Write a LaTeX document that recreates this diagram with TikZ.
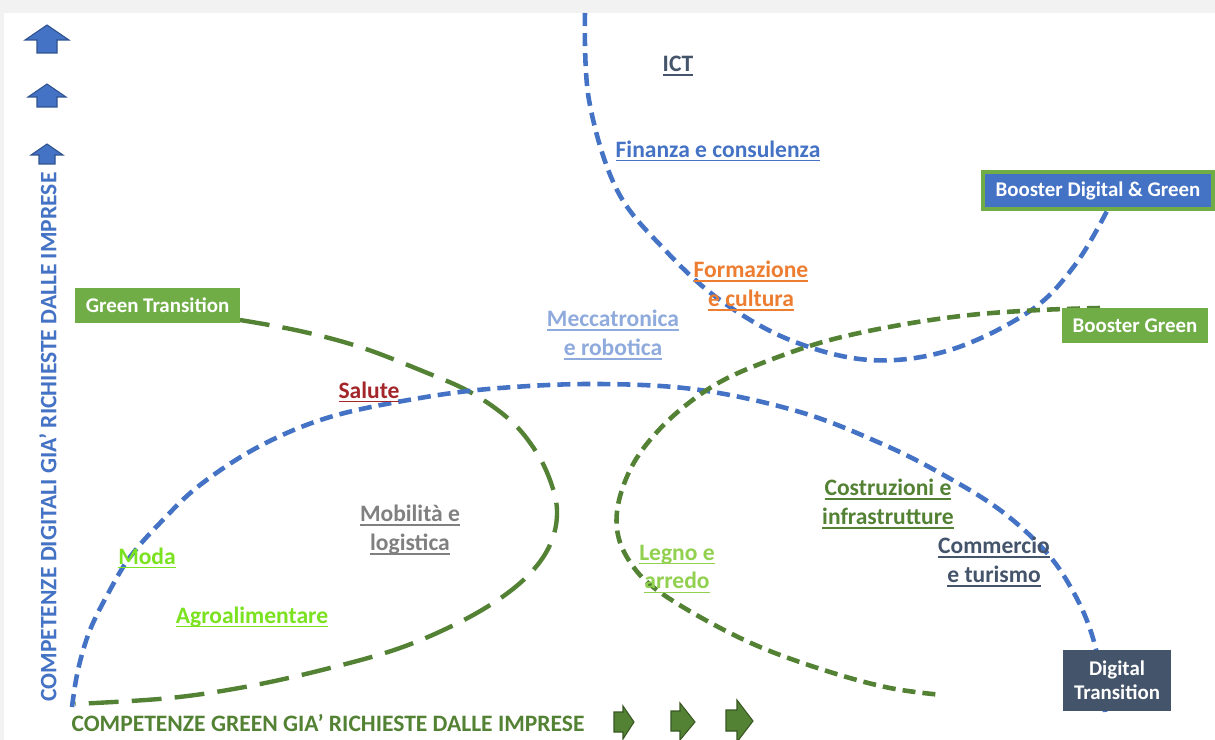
\documentclass[tikz,border=0pt]{standalone}
\usepackage{fontspec}
\setmainfont{Carlito}
\definecolor{cblue}{HTML}{4472C4}
\definecolor{cbluedark}{HTML}{2F528F}
\definecolor{cgreen}{HTML}{548235}
\definecolor{cgreendark}{HTML}{385723}
\definecolor{cgreenbox}{HTML}{70AD47}
\definecolor{cslate}{HTML}{44546A}
\definecolor{corange}{HTML}{ED7D31}
\definecolor{clightblue}{HTML}{8FAADC}
\definecolor{cred}{HTML}{A3262A}
\definecolor{cgray}{HTML}{808080}
\definecolor{clime}{HTML}{7AE21E}
\definecolor{clightgreen}{HTML}{92D050}
\definecolor{bggray}{HTML}{F2F2F2}
\newcommand{\ulx}[1]{\setbox0=\hbox{#1}\rlap{\rule[-0.18em]{\wd0}{0.07em}}\box0}
\begin{document}
\begin{tikzpicture}[x=0.02cm,y=-0.02cm,
  lbl/.style={font=\fontsize{13.4}{16.4}\selectfont\bfseries, align=center, inner sep=0pt},
  axislbl/.style={font=\fontsize{13.4}{16}\selectfont\bfseries, inner sep=0pt},
  boxlbl/.style={rectangle, inner sep=0pt, text=white, font=\fontsize{11.9}{13.6}\selectfont\bfseries, align=center},
  bluedash/.style={draw=cblue, line width=2.6pt, dash pattern=on 7.4pt off 4pt},
  greendash/.style={draw=cgreen, line width=2.6pt, dash pattern=on 7.4pt off 4pt},
  greenlong/.style={draw=cgreen, line width=2.5pt, dash pattern=on 17pt off 7.5pt},
  uparrow/.style={fill=cblue, draw=cbluedark, line width=0.6pt, line join=miter},
  rightarrow/.style={fill=cgreen, draw=cgreendark, line width=0.6pt, line join=miter}]
\useasboundingbox (0,0) rectangle (1215,740);
\fill[bggray] (0,0) rectangle (1215,740);
\fill[white] (4,13) rectangle (1215,740);

% curves
\draw[bluedash] plot[smooth, tension=0.6] coordinates {(585,13) (589,100) (617,190) (665,250) (720,300) (790,340) (870,360) (950,350) (1030,311) (1075,265) (1107,211)};
\draw[greenlong] plot[smooth, tension=0.6] coordinates {(240,320) (300,331) (360,347) (420,370) (470,392) (510,420) (535,450) (550,480) (557,510) (552,540) (535,568) (505,595) (460,622) (400,648) (330,668) (250,686) (170,698) (75,704)};
\draw[bluedash] plot[smooth, tension=0.6] coordinates {(72,707) (78,670) (90,630) (110,590) (130,557) (160,523) (200,485) (260,446) (330,417) (420,398) (500,388) (600,384) (700,390) (800,412) (880,443) (940,473) (1000,510) (1047,553) (1075,595) (1092,635) (1102,680) (1105,712)};
\draw[greendash] plot[smooth, tension=0.6] coordinates {(1100,308) (1040,310) (970,315) (900,325) (830,340) (770,360) (720,382) (680,410) (650,440) (630,470) (618,505) (618,535) (630,562) (653,587) (700,617) (760,647) (830,672) (890,688) (942,695)};

% boxes
\node[boxlbl, fill=cgreenbox, minimum width=165*0.02cm, minimum height=35*0.02cm] (gt) at (157.5,305.5) {Green Transition};
\node[boxlbl, fill=cblue, draw=cgreenbox, line width=2.8pt, minimum width=230*0.02cm, minimum height=37*0.02cm] (bdg) at (1098,190.5) {Booster Digital \& Green};
\node[boxlbl, fill=cgreenbox, minimum width=146*0.02cm, minimum height=35*0.02cm] (bg) at (1135,325.5) {Booster Green};
\node[boxlbl, fill=cslate, minimum width=108*0.02cm, minimum height=61*0.02cm] (dt) at (1117,680.5) {Digital\\Transition};

% labels
\node[lbl, text=cslate] (ict) at (678,66) {\ulx{ICT}};
\node[lbl, text=cblue] (fin) at (718,151) {\ulx{Finanza e consulenza}};
\node[lbl, text=corange] (form) at (751,286) {\ulx{Formazione}\\\ulx{e cultura}};
\node[lbl, text=clightblue] (mecc) at (613,335) {\ulx{Meccatronica}\\\ulx{e robotica}};
\node[lbl, text=cred] (sal) at (369,392) {\ulx{Salute}};
\node[lbl, text=cgray] (mob) at (410,530) {\ulx{Mobilità e}\\\ulx{logistica}};
\node[lbl, text=clime] (moda) at (147,558) {\ulx{Moda}};
\node[lbl, text=clime] (agro) at (252,617) {\ulx{Agroalimentare}};
\node[lbl, text=clightgreen] (legno) at (677,569) {\ulx{Legno e}\\\ulx{arredo}};
\node[lbl, text=cgreen] (costr) at (888,504) {\ulx{Costruzioni e}\\\ulx{infrastrutture}};
\node[lbl, text=cslate] (comm) at (994,562) {\ulx{Commercio}\\\ulx{e turismo}};

% axes labels
\node[axislbl, text=cblue, rotate=90] (yax) at (48,437) {COMPETENZE DIGITALI GIA’ RICHIESTE DALLE IMPRESE};
\node[axislbl, text=cgreen] (xax) at (328,723) {COMPETENZE GREEN GIA’ RICHIESTE DALLE IMPRESE};

% up arrows
\draw[uparrow] (47,25) -- (69,40) -- (57,40) -- (57,53) -- (37,53) -- (37,40) -- (25,40) -- cycle;
\draw[uparrow] (47,84) -- (66,97) -- (57,97) -- (57,107) -- (37,107) -- (37,97) -- (28,97) -- cycle;
\draw[uparrow] (47,144) -- (63,155) -- (55,155) -- (55,164) -- (39,164) -- (39,155) -- (31,155) -- cycle;

% right arrows
\draw[rightarrow] (634,722) -- (623,739) -- (623,732) -- (614,732) -- (614,712) -- (623,712) -- (623,706) -- cycle;
\draw[rightarrow] (695,722) -- (680,740) -- (680,731) -- (671,731) -- (671,711) -- (680,711) -- (680,703) -- cycle;
\draw[rightarrow] (753,721) -- (737,742) -- (737,731) -- (726,731) -- (726,710) -- (737,710) -- (737,700) -- cycle;
\end{tikzpicture}
\end{document}
